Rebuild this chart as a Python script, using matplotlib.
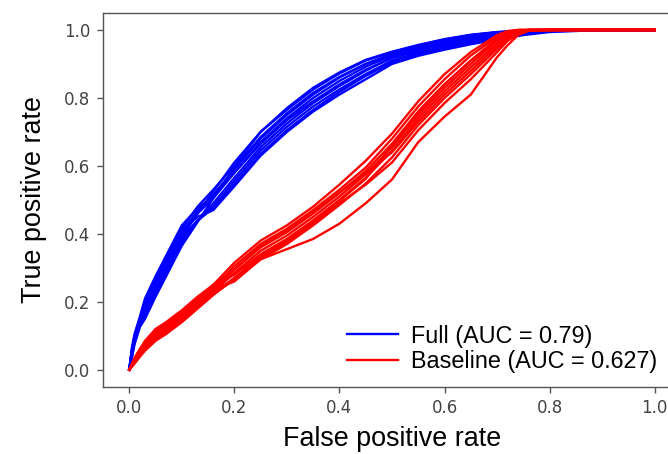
import matplotlib
matplotlib.use("Agg")
import matplotlib.pyplot as plt

# false positive rate grids
fpr_full = [0, 0.005, 0.01, 0.02, 0.03, 0.05, 0.07, 0.1, 0.13, 0.16, 0.2, 0.25, 0.3,
            0.35, 0.4, 0.45, 0.5, 0.55, 0.6, 0.65, 0.7, 0.75, 0.8, 0.9, 1.0]
fpr_base = [0, 0.01, 0.02, 0.03, 0.05, 0.07, 0.1, 0.13, 0.16, 0.2, 0.25, 0.3, 0.35,
            0.4, 0.45, 0.5, 0.55, 0.6, 0.65, 0.7, 0.72, 0.74, 0.76, 0.8, 1.0]

# true positive rates, one list per fold
tpr_full = [
    [0, .06, .10, .15, .20, .265, .325, .415, .48, .53, .60, .70, .765, .825, .872, .91, .935, .954, .972, .985, .993, .998, 1, 1, 1],
    [0, .065, .105, .155, .21, .275, .335, .425, .475, .51, .58, .665, .735, .79, .84, .883, .917, .939, .957, .972, .984, .992, .998, 1, 1],
    [0, .045, .085, .135, .17, .235, .295, .39, .46, .525, .61, .70, .77, .83, .875, .912, .936, .956, .973, .986, .994, .998, 1, 1, 1],
    [0, .05, .09, .14, .18, .245, .305, .39, .44, .475, .545, .635, .705, .765, .818, .865, .905, .929, .947, .963, .977, .989, .996, 1, 1],
    [0, .055, .095, .145, .19, .255, .315, .405, .467, .515, .59, .68, .75, .81, .86, .90, .93, .952, .97, .984, .993, .998, 1, 1, 1],
    [0, .04, .08, .13, .16, .225, .285, .375, .44, .49, .565, .655, .725, .785, .835, .88, .92, .943, .961, .976, .987, .995, .999, 1, 1],
    [0, .035, .075, .125, .15, .215, .275, .365, .435, .505, .595, .685, .755, .815, .862, .90, .927, .949, .967, .981, .991, .997, 1, 1, 1],
    [0, .058, .098, .148, .195, .26, .32, .41, .45, .47, .54, .63, .70, .76, .81, .855, .90, .924, .942, .958, .972, .985, .994, 1, 1],
    [0, .042, .082, .132, .165, .23, .29, .38, .438, .48, .555, .645, .715, .775, .825, .87, .91, .934, .952, .967, .98, .99, .997, 1, 1],
    [0, .052, .092, .142, .185, .25, .31, .40, .46, .505, .58, .67, .74, .80, .85, .892, .925, .947, .965, .98, .99, .996, .999, 1, 1],
]
tpr_base = [
    [0, .03, .055, .08, .11, .13, .165, .205, .25, .315, .38, .425, .48, .545, .615, .695, .79, .87, .935, .985, .997, 1, 1, 1, 1],
    [0, .035, .06, .085, .12, .14, .175, .215, .25, .295, .36, .405, .46, .52, .585, .665, .76, .84, .91, .975, .993, 1, 1, 1, 1],
    [0, .025, .05, .07, .10, .12, .155, .195, .24, .305, .37, .415, .47, .53, .595, .68, .775, .855, .925, .98, .995, 1, 1, 1, 1],
    [0, .02, .042, .06, .09, .11, .145, .185, .228, .285, .35, .395, .45, .51, .575, .655, .75, .83, .90, .968, .99, .998, 1, 1, 1],
    [0, .032, .06, .082, .115, .135, .17, .21, .245, .28, .34, .385, .44, .50, .565, .645, .74, .82, .89, .96, .985, .997, 1, 1, 1],
    [0, .022, .046, .066, .095, .115, .15, .19, .233, .295, .365, .41, .465, .522, .578, .64, .73, .81, .88, .952, .98, .995, 1, 1, 1],
    [0, .018, .038, .056, .085, .105, .14, .18, .22, .27, .335, .38, .435, .497, .562, .66, .76, .84, .91, .972, .99, .998, 1, 1, 1],
    [0, .027, .053, .074, .105, .125, .16, .20, .235, .26, .325, .37, .425, .485, .548, .625, .72, .80, .87, .945, .975, .993, 1, 1, 1],
    [0, .02, .04, .06, .09, .11, .145, .185, .222, .265, .33, .375, .43, .49, .545, .61, .705, .785, .855, .935, .968, .988, .998, 1, 1],
    [0, .022, .045, .065, .095, .115, .15, .185, .225, .27, .325, .355, .385, .43, .49, .56, .67, .745, .81, .92, .955, .985, .998, 1, 1],
]

labels = ["Full (AUC = 0.79)", "Baseline (AUC = 0.627)"]
ticks = [0.0, 0.2, 0.4, 0.6, 0.8, 1.0]

fig = plt.figure(figsize=(6.68, 4.54), dpi=100)
ax = fig.add_axes([0.1542, 0.1482, 0.8653, 0.8232])

for i, t in enumerate(tpr_full):
    ax.plot(fpr_full, t, color="#0000ff", lw=1.7, label=labels[0] if i == 0 else None)
for i, t in enumerate(tpr_base):
    ax.plot(fpr_base, t, color="#ff0000", lw=1.7, label=labels[1] if i == 0 else None)

ax.set_xlim(-0.05, 1.05)
ax.set_ylim(-0.05, 1.05)
ax.set_xticks(ticks)
ax.set_yticks(ticks)
ax.tick_params(labelsize=12, labelcolor="#444444", color="#555555", length=4, width=1, pad=5)
for s in ax.spines.values():
    s.set_color("#555555")
    s.set_linewidth(1.0)

lab_font = dict(family="Liberation Sans", size=19.4)
ax.set_xlabel("False positive rate", fontdict=lab_font, labelpad=6)
ax.set_ylabel("True positive rate", fontdict=lab_font, labelpad=12)

ax.legend(loc="lower left", bbox_to_anchor=(0.422, 0.037), frameon=False,
          borderaxespad=0, borderpad=0, handlelength=2.2, handletextpad=0.55,
          labelspacing=0.1, prop=dict(family="Liberation Sans", size=16.8))

fig.savefig("out.png", dpi=100)
